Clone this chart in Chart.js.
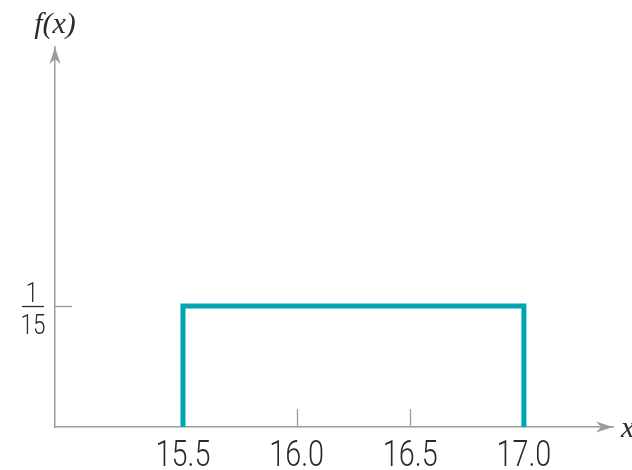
<!DOCTYPE html>
<html><head><meta charset="utf-8">
<style>html,body{margin:0;padding:0;background:#fff}#wrap{width:632px;height:470px}</style>
<script src="https://cdn.jsdelivr.net/npm/chart.js@4"></script>
</head><body><div id="wrap"><canvas id="c" width="632" height="470"></canvas></div>
<script>
// ---- data ----
const xValues = [15.5, 15.5, 17.0, 17.0];
const densityValues = [0, 1/15, 1/15, 0];
const xTickValues = [15.5, 16.0, 16.5, 17.0];
const xTickLabels = ['15.5', '16.0', '16.5', '17.0'];
const yTickValues = [1/15];
const yTickNumerators = ['1'];
const yTickDenominators = ['15'];
const yTitle = 'f(x)';
const xTitle = 'x';

// ---- styles ----
const AXIS = '#9c9c9c';
const TEXT = '#2a2a2a';
const TEAL = '#00a5b4';
const SANS = "Roboto, 'Liberation Sans', sans-serif";
const NARROW_K = 0.8;

const points = xValues.map((x, i) => ({x: x, y: densityValues[i]}));

function arrow(ctx, tipX, tipY, dir) {
  const len = 17, half = 5.5, notch = 5;
  ctx.beginPath();
  if (dir === 'up') {
    ctx.moveTo(tipX, tipY);
    ctx.lineTo(tipX - half, tipY + len);
    ctx.lineTo(tipX, tipY + len - notch);
    ctx.lineTo(tipX + half, tipY + len);
  } else {
    ctx.moveTo(tipX, tipY);
    ctx.lineTo(tipX - len, tipY - half);
    ctx.lineTo(tipX - len + notch, tipY);
    ctx.lineTo(tipX - len, tipY + half);
  }
  ctx.closePath();
  ctx.fillStyle = AXIS;
  ctx.fill();
}

function narrowText(ctx, text, x, y) {
  ctx.save();
  ctx.translate(x, y);
  ctx.scale(NARROW_K, 1);
  ctx.fillText(text, 0, 0);
  ctx.restore();
}

const decor = {
  id: 'decor',
  beforeDatasetsDraw(chart) {
    const {ctx, chartArea: a, scales: {x, y}} = chart;
    ctx.save();
    ctx.strokeStyle = AXIS;
    ctx.lineWidth = 1.3;
    xTickValues.forEach(v => {
      const px = Math.round(x.getPixelForValue(v)) + 0.5;
      ctx.beginPath();
      ctx.moveTo(px, a.bottom);
      ctx.lineTo(px, a.bottom - 18);
      ctx.stroke();
    });
    yTickValues.forEach(v => {
      const py = Math.round(y.getPixelForValue(v)) + 0.5;
      ctx.beginPath();
      ctx.moveTo(a.left, py);
      ctx.lineTo(a.left + 17, py);
      ctx.stroke();
    });
    ctx.restore();
  },
  afterDraw(chart) {
    const {ctx, chartArea: a, scales: {x, y}} = chart;
    ctx.save();
    arrow(ctx, a.left, a.top, 'up');
    arrow(ctx, a.right, a.bottom, 'right');
    ctx.fillStyle = TEXT;
    ctx.textAlign = 'center';
    ctx.textBaseline = 'alphabetic';
    // x tick labels
    ctx.font = '300 36px ' + SANS;
    xTickValues.forEach((v, i) => {
      narrowText(ctx, xTickLabels[i], x.getPixelForValue(v), a.bottom + 39);
    });
    // fraction labels on y
    yTickValues.forEach((v, i) => {
      const py = y.getPixelForValue(v);
      const cx = a.left - 22;
      ctx.font = '300 28px ' + SANS;
      narrowText(ctx, yTickNumerators[i], cx - 1, py - 4);
      narrowText(ctx, yTickDenominators[i], cx, py + 28);
      ctx.strokeStyle = TEXT;
      ctx.lineWidth = 1.3;
      ctx.beginPath();
      ctx.moveTo(cx - 11, py + 0.5);
      ctx.lineTo(cx + 11, py + 0.5);
      ctx.stroke();
    });
    // axis titles
    ctx.font = "italic 30px 'Liberation Serif', 'DejaVu Serif', serif";
    ctx.textAlign = 'center';
    ctx.fillText(yTitle, a.left, a.top - 14);
    ctx.textAlign = 'left';
    ctx.fillText(xTitle, a.right + 8, a.bottom + 10);
    ctx.restore();
  }
};

new Chart(document.getElementById('c'), {
  type: 'line',
  data: {
    datasets: [{
      data: points,
      borderColor: TEAL,
      borderWidth: 5,
      pointRadius: 0,
      tension: 0,
      fill: false,
      borderJoinStyle: 'miter',
      borderCapStyle: 'butt'
    }]
  },
  options: {
    responsive: false,
    devicePixelRatio: 1,
    animation: false,
    layout: {padding: {top: 47, right: 19, left: 0, bottom: 0}},
    plugins: {legend: {display: false}, tooltip: {enabled: false}, title: {display: false}},
    scales: {
      x: {
        type: 'linear',
        min: 14.937,
        max: 17.392,
        afterBuildTicks: s => { s.ticks = xTickValues.map(v => ({value: v})); },
        afterFit: s => { s.height = 43; },
        grid: {display: false, drawTicks: false},
        border: {display: true, color: AXIS, width: 1.5},
        ticks: {display: false}
      },
      y: {
        type: 'linear',
        min: 0,
        max: 0.2094,
        afterFit: s => { s.width = 55; },
        grid: {display: false, drawTicks: false},
        border: {display: true, color: AXIS, width: 1.5},
        ticks: {display: false}
      }
    }
  },
  plugins: [decor]
});
</script>
</body></html>
